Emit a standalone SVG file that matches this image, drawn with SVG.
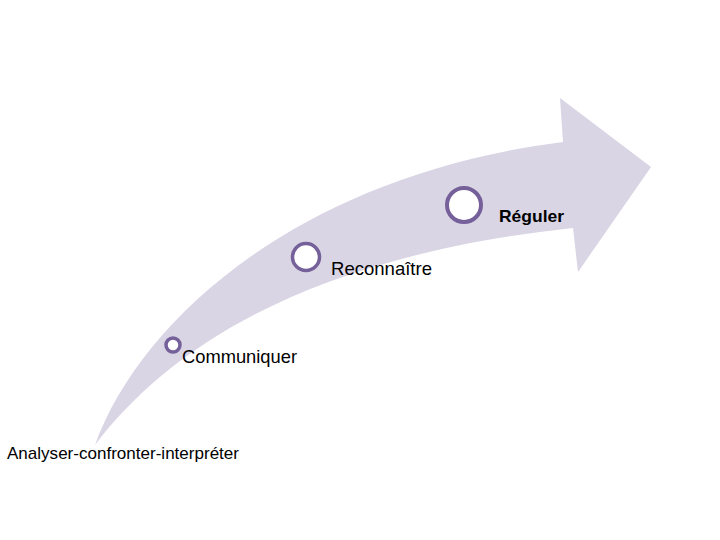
<svg xmlns="http://www.w3.org/2000/svg" width="720" height="540" viewBox="0 0 720 540">
  <style>
    .band { fill: #d9d5e5; stroke: none; }
    .dot { fill: #ffffff; stroke: #75609a; }
    .lbl { font-family: "Liberation Sans", Arial, sans-serif; fill: #000000; }
    .bold { font-weight: bold; }
  </style>
  <rect x="0" y="0" width="720" height="540" fill="#ffffff"/>
  <g id="connectors">
    <path class="band" d="M95,445 C140,320 300,175 563,142 L560,98 L651,167 L578,272 L573,228 C320,255 175,340 95,445 Z"/>
  </g>
  <g id="node-analyser">
    <text class="lbl" x="7" y="458.5" font-size="17" textLength="232" lengthAdjust="spacingAndGlyphs">Analyser-confronter-interpréter</text>
  </g>
  <g id="node-communiquer">
    <circle class="dot" cx="173" cy="345" r="7" stroke-width="3.5"/>
    <text class="lbl" x="182" y="363" font-size="18.5" textLength="115" lengthAdjust="spacingAndGlyphs">Communiquer</text>
  </g>
  <g id="node-reconnaitre">
    <circle class="dot" cx="306" cy="257" r="13.5" stroke-width="3.5"/>
    <text class="lbl" x="331" y="275" font-size="18.5" textLength="101" lengthAdjust="spacingAndGlyphs">Reconnaître</text>
  </g>
  <g id="node-reguler">
    <circle class="dot" cx="464" cy="205" r="17" stroke-width="4"/>
    <text class="lbl bold" x="499" y="222" font-size="17" textLength="65" lengthAdjust="spacingAndGlyphs">Réguler</text>
  </g>
</svg>
